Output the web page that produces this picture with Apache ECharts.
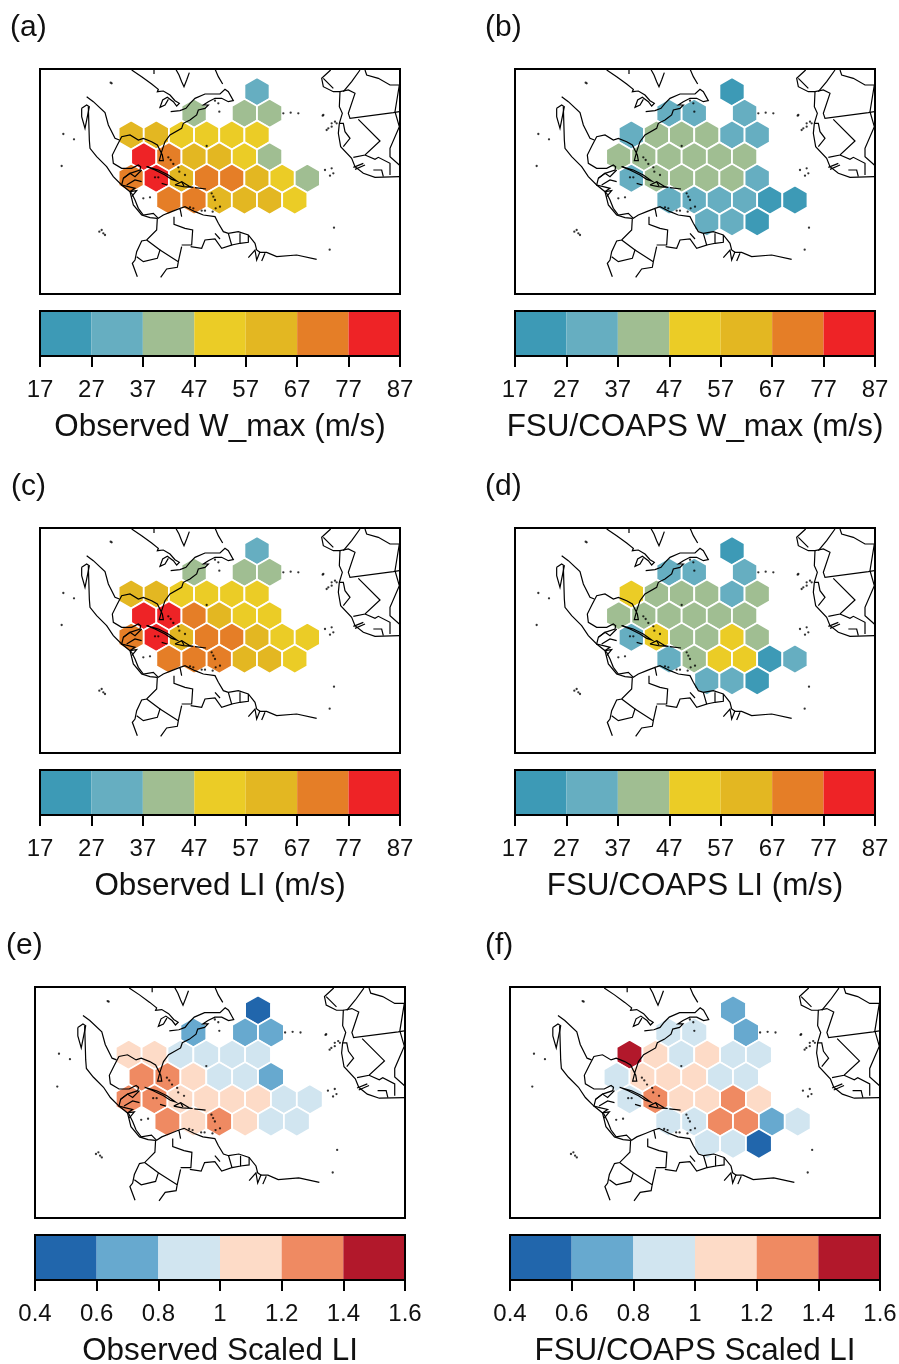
<!DOCTYPE html>
<html><head><meta charset="utf-8">
<style>html,body{margin:0;padding:0;background:#fff}#c{width:899px;height:1364px}</style>
<script src="https://cdn.jsdelivr.net/npm/echarts@6/dist/echarts.min.js"></script>
</head><body><div id="c"></div>
<script>
const obsWmax = [[10,0,32],[5,1,42],[9,1,42],[11,1,42],
 [0,2,62],[2,2,62],[4,2,52],[6,2,52],[8,2,52],[10,2,52],
 [1,3,82],[3,3,72],[5,3,62],[7,3,62],[9,3,52],[11,3,42],
 [0,4,72],[2,4,82],[4,4,62],[6,4,72],[8,4,72],[10,4,62],[12,4,52],[14,4,42],
 [3,5,72],[5,5,72],[7,5,62],[9,5,62],[11,5,62],[13,5,52]];
const modelWmax = [[10,0,22],[5,1,32],[7,1,32],[11,1,32],
 [2,2,32],[4,2,42],[6,2,42],[8,2,42],[10,2,32],[12,2,32],
 [1,3,42],[3,3,42],[5,3,42],[7,3,42],[9,3,42],[11,3,42],
 [2,4,32],[4,4,42],[6,4,42],[8,4,42],[10,4,42],[12,4,32],
 [5,5,32],[7,5,32],[9,5,32],[11,5,32],[13,5,22],[15,5,22],
 [8,6,32],[10,6,32],[12,6,22]];
const obsLI = [[10,0,32],[5,1,42],[9,1,42],[11,1,42],
 [0,2,62],[2,2,62],[4,2,52],[6,2,52],[8,2,52],[10,2,52],
 [1,3,82],[3,3,82],[5,3,72],[7,3,62],[9,3,52],[11,3,52],
 [0,4,72],[2,4,82],[4,4,62],[6,4,72],[8,4,72],[10,4,62],[12,4,52],[14,4,52],
 [3,5,72],[5,5,72],[7,5,72],[9,5,62],[11,5,62],[13,5,52]];
const modelLI = [[10,0,22],[5,1,32],[7,1,32],[11,1,32],
 [2,2,52],[4,2,42],[6,2,42],[8,2,42],[10,2,32],[12,2,42],
 [1,3,42],[3,3,42],[5,3,42],[7,3,42],[9,3,42],[11,3,42],
 [2,4,32],[4,4,52],[6,4,42],[8,4,42],[10,4,52],[12,4,42],
 [5,5,32],[7,5,42],[9,5,52],[11,5,52],[13,5,22],[15,5,32],
 [8,6,32],[10,6,32],[12,6,22]];
const obsScaled = [[10,0,.5],[5,1,.7],[9,1,.7],[11,1,.7],
 [0,2,1.1],[2,2,1.1],[4,2,.9],[6,2,.9],[8,2,.9],[10,2,.9],
 [1,3,1.3],[3,3,1.3],[5,3,1.1],[7,3,.9],[9,3,.9],[11,3,.7],
 [0,4,1.3],[2,4,1.3],[4,4,1.1],[6,4,1.1],[8,4,1.1],[10,4,1.1],[12,4,.9],[14,4,.9],
 [3,5,1.3],[5,5,1.1],[7,5,1.3],[9,5,1.1],[11,5,.9],[13,5,.9]];
const modelScaled = [[10,0,.7],[5,1,.9],[7,1,.9],[11,1,.7],
 [2,2,1.5],[4,2,1.1],[6,2,.9],[8,2,1.1],[10,2,.9],[12,2,.9],
 [1,3,.9],[3,3,1.1],[5,3,1.1],[7,3,1.1],[9,3,.9],[11,3,.9],
 [2,4,.9],[4,4,1.3],[6,4,1.1],[8,4,1.1],[10,4,1.3],[12,4,1.1],
 [5,5,.9],[7,5,.9],[9,5,1.3],[11,5,1.3],[13,5,.7],[15,5,.9],
 [8,6,.9],[10,6,.9],[12,6,.5]];

const windTicks = ['17','27','37','47','57','67','77','87'];
const windBreaks = [17,27,37,47,57,67,77,87];
const windColors = ['#3D9AB6','#66AEC1','#A0BE92','#EBCC26','#E3B722','#E57E27','#EE2326'];
const scaledTicks = ['0.4','0.6','0.8','1','1.2','1.4','1.6'];
const scaledBreaks = [.4,.6,.8,1,1.2,1.4,1.6];
const scaledColors = ['#2166AC','#67A9CF','#D1E5F0','#FDDBC7','#EF8A62','#B2182B'];

// Outline of the basemap in map units (frame spans 30..1110 by 27..702).
const coastLines = [
 [[305,30],[335,50],[365,72],[385,88],[382,95],[400,93],[420,105],[435,122],[448,130],[440,138],[430,125],[412,112],[398,120],[390,142],[405,135],[415,118]],
 [[422,155],[450,152],[468,145],[480,130],[495,115],[525,102],[545,102],[570,102],[585,88],[595,95],[610,122],[595,125],[575,115],[555,115],[535,125],[520,135],[535,135],[525,145],[505,150],[500,165],[480,180],[460,190],[455,205],[420,225],[405,245],[395,275],[388,302],[400,302],[397,285],[382,255],[365,245],[340,235],[325,240],[300,225],[275,230],[262,255],[247,285],[250,310],[275,325],[305,325],[325,315],[332,320],[330,330],[300,340],[280,355],[275,375],[295,380],[315,385],[300,395],[305,400],[315,420],[325,445],[340,465],[370,460],[385,475],[400,465],[425,455],[450,445],[455,470],[450,445],[465,440],[495,455],[520,465],[555,470],[565,490],[580,515],[595,520],[625,515],[655,525],[675,550],[680,570],[690,577],[710,577],[740,590],[800,585],[860,598]],
 [[170,110],[190,125],[225,158],[235,195],[255,235],[268,240]],
 [[175,140],[178,240],[180,265],[200,290],[230,320],[250,350],[275,375],[300,395],[310,435],[335,465],[360,473],[382,475]],
 [[155,145],[170,135],[178,140],[165,205],[155,170],[155,145]],
 [[280,355],[300,340],[315,350],[335,330]],[[290,375],[315,360],[335,365]],[[300,395],[320,392],[305,410]],
 [[350,320],[385,330],[415,345],[440,363],[425,358],[405,345],[375,330],[350,320]],
 [[435,375],[455,365],[480,380],[490,382],[460,380],[435,375]],[[455,365],[462,378]],
 [[395,370],[412,375]],[[495,383],[528,387]],
 [[372,27],[372,42]],[[437,27],[447,45],[455,65],[462,80],[470,60],[478,38]],[[555,27],[565,50],[578,72]],
 [[432,470],[432,493],[465,505],[488,510],[485,555],[455,555]],
 [[482,560],[515,565],[525,540],[555,537],[575,565],[605,555],[595,520]],[[555,520],[570,537]],
 [[630,520],[630,550],[605,555]],[[630,550],[655,547],[655,525]],
 [[382,475],[380,510],[350,540],[335,543],[320,575],[315,600],[307,610],[322,650]],
 [[350,540],[390,570],[382,595],[340,605],[320,590]],
 [[390,570],[445,605],[442,622],[410,627],[392,652]],[[445,605],[455,560]],
 [[655,593],[675,570],[680,600],[690,575]],[[695,603],[705,580]],
 [[902,30],[875,55],[880,80],[910,95],[930,95],[928,140],[937,160],[928,190],[925,220],[932,260],[965,295],[975,320],[1000,340],[1035,352],[1108,350]],
 [[930,95],[955,90],[975,100],[955,160],[960,175],[1090,158],[1108,155]],
 [[928,190],[940,190],[945,215],[960,235],[940,260]],
 [[985,178],[1050,243],[1005,285],[970,292]],
 [[1005,30],[1010,45],[1045,55],[1080,75],[1108,75]],
 [[990,30],[965,65],[940,95]],
 [[1108,75],[1095,155],[1108,200],[1080,265],[1080,290],[1108,315]],
 [[1005,285],[1035,298],[1045,292],[1080,310],[1080,345]],
 [[1030,330],[1055,330],[1060,350]],
 [[970,322],[1000,310]],[[975,328],[1005,315]],[[880,55],[910,85]]
];
const islandDots = [[242,68],[245,70],[568,155],[760,160],[782,158],[805,160],[880,165],[878,167],[915,185],[905,190],[890,210],[895,205],[905,200],[920,190],[885,330],[905,325],[910,340],[900,347],
 [100,222],[132,238],[95,318],[208,515],[215,510],[220,520],[225,525],[912,503],[899,569],[530,258],[415,292],[422,300],[430,312],[445,322],[448,335],[465,345],[545,400],[550,410],[555,420],[557,445],[570,440],[480,442],[490,445],[515,452],[525,452],[548,455],[340,415],[360,412],[555,122],[565,130],[375,352],[385,352]];

const HEX_R = 43.6;
const hexX = i => 303.5 + i * 37.75;
const hexY = r => 95 + r * 65;

const panels = [
 {letter:'(a)',lx:10,ly:13,x:40,y:69,w:360,h:225,cells:obsWmax,ticks:windTicks,breaks:windBreaks,colors:windColors,name:'Observed W_max (m/s)'},
 {letter:'(b)',lx:485,ly:13,x:515,y:69,w:360,h:225,cells:modelWmax,ticks:windTicks,breaks:windBreaks,colors:windColors,name:'FSU/COAPS W_max (m/s)'},
 {letter:'(c)',lx:11,ly:472,x:40,y:528,w:360,h:225,cells:obsLI,ticks:windTicks,breaks:windBreaks,colors:windColors,name:'Observed LI (m/s)'},
 {letter:'(d)',lx:485,ly:472,x:515,y:528,w:360,h:225,cells:modelLI,ticks:windTicks,breaks:windBreaks,colors:windColors,name:'FSU/COAPS LI (m/s)'},
 {letter:'(e)',lx:6,ly:931,x:35,y:987,w:370,h:231,cells:obsScaled,ticks:scaledTicks,breaks:scaledBreaks,colors:scaledColors,name:'Observed Scaled LI'},
 {letter:'(f)',lx:485,ly:931,x:510,y:987,w:370,h:231,cells:modelScaled,ticks:scaledTicks,breaks:scaledBreaks,colors:scaledColors,name:'FSU/COAPS Scaled LI'}
];
const FONT = '"Liberation Sans", Arial, sans-serif';
const colorOf = (p, v) => { for (let k = 0; k < p.colors.length; k++) if (v < p.breaks[k+1]) return p.colors[k]; return p.colors[p.colors.length-1]; };

const grids=[],xAxes=[],yAxes=[],series=[],titles=[];
panels.forEach(p => {
  const gm = grids.length;
  grids.push({left:p.x,top:p.y,width:p.w,height:p.h,show:true,borderColor:'#000',borderWidth:2,backgroundColor:'#fff',containLabel:false,outerBoundsMode:'none'});
  xAxes.push({gridIndex:gm,type:'value',min:30,max:1110,show:false});
  yAxes.push({gridIndex:gm,type:'value',min:27,max:702,inverse:true,show:false});
  series.push({type:'custom',xAxisIndex:gm,yAxisIndex:gm,z:2,silent:true,clip:true,
    data:p.cells.map(c=>[hexX(c[0]),hexY(c[1]),c[2]]),encode:{x:0,y:1},
    renderItem:(ps,api)=>{
      const cx=api.value(0),cy=api.value(1),v=api.value(2),pts=[];
      for(let a=0;a<6;a++){const t=Math.PI/3*a;pts.push(api.coord([cx+HEX_R*Math.sin(t),cy-HEX_R*Math.cos(t)]));}
      return {type:'polygon',shape:{points:pts},style:{fill:colorOf(p,v),stroke:'#fff',lineWidth:1.8}};
    }});
  series.push({type:'custom',xAxisIndex:gm,yAxisIndex:gm,z:3,silent:true,clip:true,
    data:coastLines.map((l,i)=>[l[0][0],l[0][1],i]),encode:{x:0,y:1},
    renderItem:(ps,api)=>({type:'polyline',shape:{points:coastLines[api.value(2)].map(q=>api.coord(q))},
      style:{fill:null,stroke:'#000',lineWidth:1.2}})});
  series.push({type:'scatter',xAxisIndex:gm,yAxisIndex:gm,z:3,silent:true,symbolSize:2.3,itemStyle:{color:'#000'},data:islandDots});
  const gb = grids.length;
  grids.push({left:p.x,top:p.y+(p.h===225?242:248),width:p.w,height:45,show:false,containLabel:false,outerBoundsMode:'none'});
  xAxes.push({gridIndex:gb,type:'category',boundaryGap:false,data:p.ticks,position:'bottom',
    name:p.name,nameLocation:'middle',nameGap:56,nameTextStyle:{fontFamily:FONT,fontSize:31.4,color:'#111'},
    axisLine:{show:true,lineStyle:{color:'#000',width:2}},
    axisTick:{show:true,length:11,alignWithLabel:true,lineStyle:{color:'#000',width:2}},
    axisLabel:{show:true,interval:0,margin:22,fontFamily:FONT,fontSize:24,color:'#111',hideOverlap:false,showMinLabel:true,showMaxLabel:true},
    splitLine:{show:false}});
  yAxes.push({gridIndex:gb,type:'value',min:0,max:1,show:false});
  series.push({type:'custom',xAxisIndex:gb,yAxisIndex:gb,z:2,silent:true,
    data:p.colors.map((c,i)=>[i,0]),encode:{x:0,y:1},
    renderItem:(ps,api)=>{
      const i=ps.dataIndex,a=api.coord([i,1]),b=api.coord([i+1,0]);
      return {type:'rect',shape:{x:a[0],y:a[1],width:b[0]-a[0],height:b[1]-a[1]},style:{fill:p.colors[i]}};
    }});
  series.push({type:'custom',xAxisIndex:gb,yAxisIndex:gb,z:3,silent:true,
    data:[[0,0]],encode:{x:0,y:1},
    renderItem:(ps,api)=>{
      const a=api.coord([0,1]),b=api.coord([p.ticks.length-1,0]);
      return {type:'rect',shape:{x:a[0],y:a[1],width:b[0]-a[0],height:b[1]-a[1]},style:{fill:null,stroke:'#000',lineWidth:2}};
    }});
  titles.push({text:p.letter,left:p.lx,top:p.ly,padding:0,textStyle:{fontFamily:FONT,fontSize:30,fontWeight:'normal',color:'#111'}});
});
const chart = echarts.init(document.getElementById('c'),null,{renderer:'canvas',width:899,height:1364});
chart.setOption({animation:false,backgroundColor:'#fff',title:titles,tooltip:{show:false},grid:grids,xAxis:xAxes,yAxis:yAxes,series:series});
</script></body></html>
